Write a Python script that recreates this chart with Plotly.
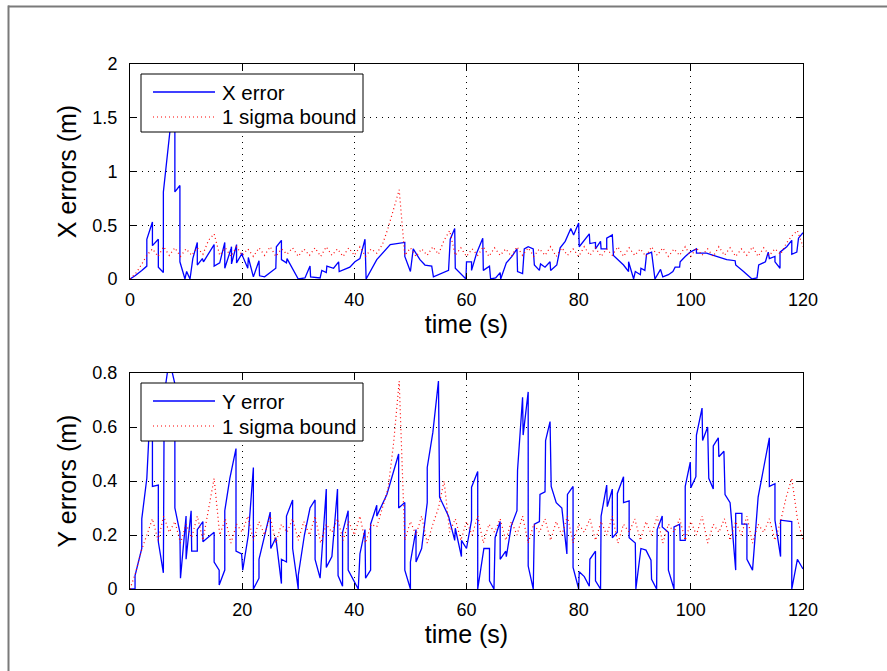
import plotly.graph_objects as go
from plotly.subplots import make_subplots

# ---------------- data ----------------
# X position error (m) against time (s)
x_err_time = [0, 0.9, 2.1, 3.0, 3.0, 4.0, 4.0, 5.05, 5.05, 5.95, 5.95, 7.1, 8.0, 8.0, 8.9, 8.9,
              9.8, 10.1, 10.7, 11.2, 12.0, 12.0, 12.9, 13.1, 15.0, 15.0, 16.0, 16.9, 16.9, 18.0,
              18.1, 18.1, 19.0, 19.0, 20.0, 20.1, 21.0, 21.1, 22.0, 23.0, 23.1, 24.0, 26.0, 26.1,
              27.0, 27.0, 27.9, 28.0, 29.0, 30.0, 31.2, 32.1, 32.2, 33.9, 34.2, 35.0, 35.1, 36.3,
              37.2, 37.3, 39.2, 40.1, 41.0, 41.9, 42.1, 44.0, 46.4, 47.9, 49.0, 49.0, 50.0, 50.5,
              51.7, 52.6, 53.8, 54.1, 56.8, 57.1, 57.9, 58.0, 59.9, 60.0, 60.9, 60.9, 61.8, 62.9,
              63.0, 64.1, 64.3, 65.2, 66.0, 66.1, 67.1, 68.1, 69.0, 69.1, 70.0, 70.3, 71.0, 71.9,
              72.1, 73.0, 73.2, 74.0, 74.9, 75.0, 76.1, 76.7, 77.6, 78.6, 79.1, 80.0, 80.1, 81.9,
              82.0, 83.0, 83.0, 83.9, 84.0, 85.0, 85.0, 86.0, 86.2, 88.0, 88.9, 88.9, 89.8, 90.1,
              91.0, 91.1, 91.8, 92.1, 93.0, 93.6, 94.6, 95.0, 96.0, 96.8, 97.2, 98.0, 98.1, 99.0,
              99.9, 101.0, 101.0, 102.8, 104.0, 104.9, 106.4, 107.9, 108.0, 109.4, 110.9, 111.8,
              112.1, 113.3, 113.8, 114.0, 115.0, 115.0, 115.9, 115.9, 117.1, 118.0, 118.0, 118.9,
              119.2, 120.0]
x_err = [0.0, 0.03, 0.08, 0.12, 0.37, 0.53, 0.31, 0.37, 0.11, 0.06, 0.81, 1.37, 1.8, 0.81, 0.87, 0.16,
         0.0, 0.07, 0.0, 0.19, 0.34, 0.13, 0.19, 0.16, 0.32, 0.12, 0.15, 0.34, 0.10, 0.28,
         0.30, 0.14, 0.32, 0.15, 0.24, 0.21, 0.10, 0.20, 0.02, 0.17, 0.03, 0.02, 0.10, 0.30,
         0.36, 0.18, 0.15, 0.19, 0.09, 0.0, 0.01, 0.12, 0.02, 0.01, 0.08, 0.06, 0.12, 0.10,
         0.16, 0.07, 0.11, 0.16, 0.19, 0.37, 0.0, 0.18, 0.32, 0.33, 0.34, 0.21, 0.07, 0.28,
         0.18, 0.13, 0.12, 0.02, 0.08, 0.37, 0.47, 0.10, 0.0, 0.16, 0.16, 0.08, 0.24, 0.38,
         0.08, 0.12, 0.0, 0.01, 0.06, 0.0, 0.15, 0.21, 0.28, 0.07, 0.05, 0.28, 0.30, 0.28,
         0.13, 0.08, 0.14, 0.11, 0.16, 0.08, 0.13, 0.29, 0.35, 0.47, 0.41, 0.52, 0.30, 0.42,
         0.33, 0.34, 0.28, 0.35, 0.28, 0.28, 0.38, 0.41, 0.22, 0.13, 0.07, 0.16, 0.0, 0.07,
         0.04, 0.10, 0.08, 0.23, 0.25, 0.0, 0.09, 0.02, 0.04, 0.07, 0.11, 0.11, 0.16, 0.21,
         0.25, 0.28, 0.24, 0.24, 0.22, 0.21, 0.18, 0.17, 0.13, 0.07, 0.0, 0.01,
         0.13, 0.16, 0.25, 0.19, 0.21, 0.16, 0.10, 0.25, 0.30, 0.36, 0.23, 0.25,
         0.38, 0.43]

# Y position error (m) against time (s)
y_err_time = [0, 0.9, 0.9, 2.1, 2.1, 3.0, 3.4, 4.0, 4.0, 5.05, 5.05, 5.95, 6.1, 7.0, 8.0, 8.0,
              8.9, 9.0, 10.0, 10.0, 10.9, 11.0, 12.0, 12.0, 13.0, 13.0, 15.0, 15.0, 15.9, 15.9,
              16.9, 16.9, 17.8, 18.9, 18.9, 19.9, 20.1, 21.1, 22.0, 22.0, 23.0, 23.0, 25.0, 25.1,
              26.0, 27.0, 27.0, 27.9, 27.9, 29.0, 29.0, 30.0, 30.0, 31.1, 32.1, 33.0, 33.0, 33.9,
              35.0, 35.0, 36.0, 37.0, 37.1, 37.9, 37.9, 38.9, 38.9, 40.1, 40.7, 41.0, 41.9, 42.0,
              42.9, 42.9, 44.0, 44.0, 45.8, 47.9, 47.9, 49.0, 49.0, 50.0, 50.0, 51.0, 51.0, 52.0,
              53.0, 53.0, 54.0, 55.0, 55.2, 56.8, 57.1, 57.9, 58.0, 59.1, 59.1, 60.0, 60.9, 60.9,
              62.0, 62.0, 63.1, 64.1, 64.1, 64.9, 65.1, 66.0, 66.0, 67.0, 67.1, 68.0, 69.0, 69.1,
              70.0, 70.1, 71.0, 71.0, 71.9, 72.1, 73.0, 73.1, 74.0, 74.1, 74.9, 75.1, 76.0, 77.0,
              77.9, 78.0, 79.0, 79.0, 80.0, 80.1, 81.0, 81.9, 82.0, 83.0, 83.0, 83.9, 84.0, 85.0,
              85.1, 86.0, 86.0, 86.9, 86.9, 88.0, 88.0, 89.0, 89.0, 90.1, 90.2, 91.1, 92.0, 92.9,
              93.0, 93.9, 94.0, 94.9, 94.9, 96.0, 96.0, 97.0, 97.0, 98.0, 98.1, 99.0, 99.0, 99.9,
              100.0, 100.9, 101.0, 102.0, 102.1, 103.0, 103.2, 104.0, 104.0, 104.9, 105.0, 105.9,
              106.1, 107.0, 108.0, 108.0, 109.1, 109.1, 110.0, 110.0, 111.0, 112.0, 113.0, 114.0,
              114.0, 115.0, 115.0, 116.0, 116.0, 118.0, 118.0, 119.0, 120.0]
y_err = [0.0, 0.0, 0.05, 0.15, 0.26, 0.41, 0.58, 0.66, 0.38, 0.385, 0.175, 0.06, 0.72, 0.85, 0.76, 0.30,
         0.21, 0.04, 0.27, 0.11, 0.29, 0.14, 0.14, 0.22, 0.25, 0.175, 0.21, 0.10, 0.07, 0.015,
         0.07, 0.29, 0.41, 0.52, 0.14, 0.13, 0.07, 0.20, 0.45, 0.0, 0.04, 0.11, 0.285, 0.15,
         0.19, 0.02, 0.11, 0.10, 0.27, 0.33, 0.15, 0.0, 0.05, 0.20, 0.30, 0.33, 0.11, 0.04,
         0.37, 0.08, 0.12, 0.37, 0.05, 0.01, 0.21, 0.29, 0.07, 0.02, 0.0, 0.13, 0.22, 0.04,
         0.07, 0.24, 0.31, 0.27, 0.35, 0.50, 0.30, 0.32, 0.07, 0.0, 0.10, 0.22, 0.10, 0.15,
         0.32, 0.45, 0.58, 0.77, 0.34, 0.27, 0.245, 0.18, 0.225, 0.12, 0.18, 0.15, 0.255, 0.377,
         0.435, 0.0, 0.15, 0.15, 0.03, 0.0, 0.19, 0.25, 0.11, 0.14, 0.12, 0.235, 0.29, 0.44,
         0.71, 0.57, 0.73, 0.085, 0.0, 0.24, 0.25, 0.35, 0.36, 0.55, 0.62, 0.38, 0.32, 0.30,
         0.13, 0.35, 0.38, 0.08, 0.0, 0.064, 0.046, 0.01, 0.11, 0.14, 0.03, 0.0, 0.27, 0.385,
         0.305, 0.37, 0.19, 0.21, 0.354, 0.416, 0.32, 0.326, 0.19, 0.17, 0.0, 0.15, 0.144, 0.107,
         0.036, 0.0, 0.22, 0.27, 0.23, 0.21, 0.07, 0.0, 0.23, 0.24, 0.18, 0.18, 0.38, 0.47,
         0.375, 0.416, 0.57, 0.67, 0.55, 0.60, 0.41, 0.37, 0.53, 0.56, 0.49, 0.51,
         0.35, 0.32, 0.07, 0.28, 0.28, 0.24, 0.24, 0.11, 0.07, 0.34, 0.45, 0.56,
         0.38, 0.39, 0.255, 0.12, 0.255, 0.25, 0.0, 0.11, 0.074]

# 1-sigma bounds (m), one sample per second
sigma_time = list(range(0, 121))
x_sigma = [0.00, 0.05, 0.13, 0.22, 0.28, 0.21, 0.30, 0.22, 0.29, 0.21,
           0.28, 0.22, 0.29, 0.23, 0.36, 0.42, 0.22, 0.29, 0.21, 0.30,
           0.22, 0.28, 0.21, 0.29, 0.22, 0.30, 0.21, 0.28, 0.23, 0.29,
           0.21, 0.28, 0.22, 0.29, 0.21, 0.30, 0.22, 0.28, 0.21, 0.29,
           0.22, 0.30, 0.21, 0.28, 0.24, 0.32, 0.47, 0.65, 0.83, 0.22,
           0.29, 0.21, 0.28, 0.22, 0.30, 0.23, 0.36, 0.45, 0.22, 0.29,
           0.21, 0.28, 0.22, 0.30, 0.21, 0.29, 0.22, 0.28, 0.21, 0.30,
           0.22, 0.29, 0.21, 0.28, 0.22, 0.30, 0.21, 0.29, 0.22, 0.28,
           0.21, 0.30, 0.22, 0.29, 0.21, 0.28, 0.22, 0.30, 0.21, 0.29,
           0.22, 0.28, 0.21, 0.30, 0.22, 0.29, 0.21, 0.28, 0.22, 0.30,
           0.21, 0.29, 0.22, 0.28, 0.21, 0.30, 0.22, 0.29, 0.21, 0.28,
           0.22, 0.30, 0.21, 0.29, 0.22, 0.28, 0.23, 0.33, 0.40, 0.45,
           0.30]
y_sigma = [0.00, 0.06, 0.14, 0.20, 0.26, 0.18, 0.27, 0.21, 0.25, 0.17,
           0.24, 0.19, 0.27, 0.18, 0.30, 0.41, 0.20, 0.26, 0.17, 0.24,
           0.21, 0.27, 0.18, 0.25, 0.20, 0.27, 0.17, 0.24, 0.21, 0.26,
           0.18, 0.25, 0.20, 0.27, 0.17, 0.24, 0.21, 0.26, 0.18, 0.25,
           0.20, 0.27, 0.17, 0.24, 0.23, 0.30, 0.37, 0.54, 0.77, 0.18,
           0.25, 0.20, 0.27, 0.17, 0.24, 0.30, 0.40, 0.21, 0.26, 0.18,
           0.25, 0.20, 0.27, 0.17, 0.24, 0.21, 0.26, 0.18, 0.25, 0.20,
           0.27, 0.17, 0.24, 0.21, 0.26, 0.18, 0.25, 0.20, 0.27, 0.17,
           0.24, 0.21, 0.26, 0.18, 0.25, 0.20, 0.27, 0.17, 0.24, 0.21,
           0.26, 0.18, 0.25, 0.20, 0.27, 0.17, 0.24, 0.21, 0.26, 0.18,
           0.25, 0.20, 0.27, 0.17, 0.24, 0.21, 0.26, 0.18, 0.25, 0.20,
           0.27, 0.17, 0.24, 0.21, 0.26, 0.18, 0.25, 0.34, 0.41, 0.26,
           0.18]

time_ticks = [0, 20, 40, 60, 80, 100, 120]
x_ticks = [0, 0.5, 1, 1.5, 2]
y_ticks = [0, 0.2, 0.4, 0.6, 0.8]

# ---------------- layout constants (pixels) ----------------
W, H = 887, 671
L, R, T, B = 130, 84, 64, 82
PW, PH = W - L - R, H - T - B
FONT = "Liberation Sans, Arial, Helvetica, sans-serif"
BLUE = "#0000ff"
RED = "#ff0000"
DOTS = "1px,3px"


def px(xp):
    return (xp - L) / PW


def py(yp):
    return (H - B - yp) / PH


fig = make_subplots(rows=2, cols=1)

fig.add_trace(go.Scatter(x=x_err_time, y=x_err, mode="lines", name="X error",
                         line=dict(color=BLUE, width=1.3)), row=1, col=1)
fig.add_trace(go.Scatter(x=sigma_time, y=x_sigma, mode="lines", name="1 sigma bound",
                         line=dict(color=RED, width=1.2, dash=DOTS)), row=1, col=1)
fig.add_trace(go.Scatter(x=y_err_time, y=y_err, mode="lines", name="Y error",
                         line=dict(color=BLUE, width=1.3)), row=2, col=1)
fig.add_trace(go.Scatter(x=sigma_time, y=y_sigma, mode="lines", name="1 sigma bound",
                         line=dict(color=RED, width=1.2, dash=DOTS)), row=2, col=1)

TITLE_FONT = dict(family=FONT, size=25, color="black")
axis_common = dict(
    showline=True, linecolor="black", linewidth=1, mirror="ticks",
    ticks="inside", ticklen=6, tickcolor="black", tickwidth=1,
    showgrid=True, gridcolor="black", gridwidth=1, griddash="1px,5px",
    zeroline=False, tickfont=dict(family=FONT, size=18, color="black"),
)

fig.update_xaxes(range=[0, 120], tickvals=time_ticks, ticklabelstandoff=4,
                 title=dict(text="time (s)", font=TITLE_FONT, standoff=4),
                 **axis_common)
fig.update_yaxes(ticklabelstandoff=8, **axis_common)
fig.update_yaxes(range=[0, 2], tickvals=x_ticks, row=1, col=1,
                 title=dict(text="X errors (m)", font=TITLE_FONT, standoff=8))
fig.update_yaxes(range=[0, 0.8], tickvals=y_ticks, row=2, col=1,
                 title=dict(text="Y errors (m)", font=TITLE_FONT, standoff=8))

fig.update_layout(
    width=W, height=H,
    margin=dict(l=L, r=R, t=T, b=B),
    paper_bgcolor="white", plot_bgcolor="white",
    showlegend=False,
    xaxis=dict(domain=[0, 1]), xaxis2=dict(domain=[0, 1]),
    yaxis=dict(domain=[py(279), 1.0]),
    yaxis2=dict(domain=[0.0, py(373)]),
)

shapes = []
annotations = []

# figure frame lines along the top and left edges
shapes.append(dict(type="line", xref="paper", yref="paper", x0=px(8), x1=px(W + 2),
                   y0=py(6.5), y1=py(6.5), line=dict(color="#7a7a7a", width=2)))
shapes.append(dict(type="line", xref="paper", yref="paper", x0=px(8.5), x1=px(8.5),
                   y0=py(5.5), y1=py(H + 2), line=dict(color="#7a7a7a", width=2)))

# boxed legends drawn over the data
for top, labels in ((74, ("X error", "1 sigma bound")), (383, ("Y error", "1 sigma bound"))):
    shapes.append(dict(type="rect", xref="paper", yref="paper", layer="above",
                       x0=px(141), x1=px(363), y0=py(top + 58), y1=py(top),
                       fillcolor="white", line=dict(color="black", width=1)))
    for k, (lab, col, dash) in enumerate(((labels[0], BLUE, "solid"),
                                          (labels[1], RED, DOTS))):
        yrow = top + 18 + 25 * k
        shapes.append(dict(type="line", xref="paper", yref="paper", layer="above",
                           x0=px(153), x1=px(215), y0=py(yrow), y1=py(yrow),
                           line=dict(color=col, width=1.3 if k == 0 else 1.2, dash=dash)))
        annotations.append(dict(xref="paper", yref="paper", x=px(220), y=py(yrow),
                                xanchor="left", yanchor="middle", showarrow=False,
                                text=lab, font=dict(family=FONT, size=20.5, color="black")))

fig.update_layout(shapes=shapes, annotations=annotations)

fig.write_html("out.html")
